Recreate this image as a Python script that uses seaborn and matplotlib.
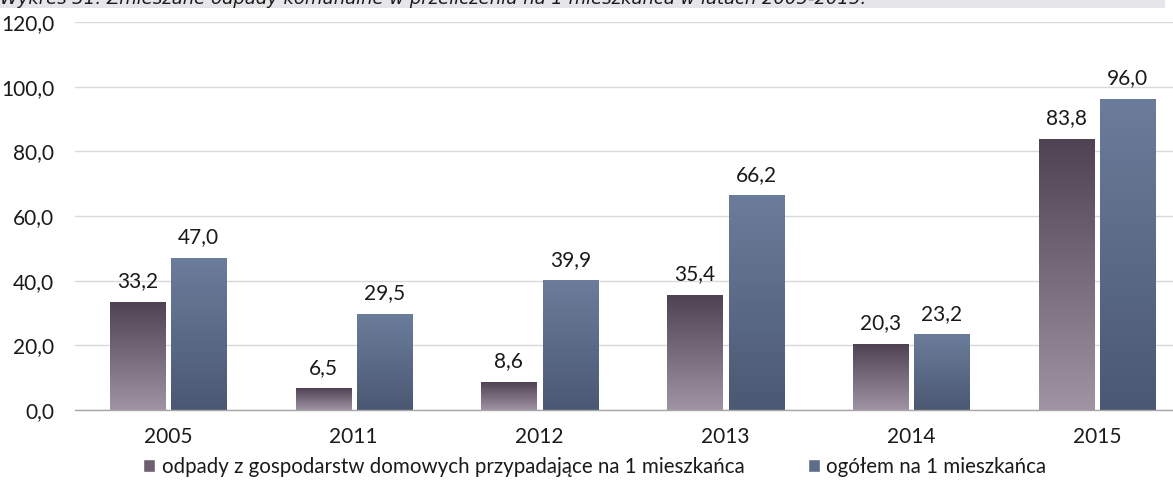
import numpy as np
import pandas as pd
import matplotlib
matplotlib.use("Agg")
import matplotlib.pyplot as plt
import seaborn as sns
from matplotlib.patches import Rectangle
from matplotlib.colors import LinearSegmentedColormap

years = ["2005", "2011", "2012", "2013", "2014", "2015"]
households = [33.2, 6.5, 8.6, 35.4, 20.3, 83.8]
total = [47.0, 29.5, 39.9, 66.2, 23.2, 96.0]
series_names = ["odpady z gospodarstw domowych przypadające na 1 mieszkańca",
                "ogółem na 1 mieszkańca"]
yticks = [0, 20, 40, 60, 80, 100, 120]
title = "Wykres 31. Zmieszane odpady komunalne w przeliczeniu na 1 mieszkańca w latach 2005-2015."

df = pd.DataFrame({
    "rok": years * 2,
    "wartosc": households + total,
    "seria": [series_names[0]] * len(years) + [series_names[1]] * len(years),
})

sns.set_theme(style="white")
plt.rcParams["font.family"] = ["Lato", "DejaVu Sans"]

W, H = 1173, 495
fig = plt.figure(figsize=(W / 100, H / 100), dpi=100)
ax = fig.add_axes([75 / W, 1 - 410 / H, 1115 / W, 388 / H])

pal = ["#6e5f70", "#5d6d89"]
sns.barplot(data=df, x="rok", y="wartosc", hue="seria", palette=pal,
            width=0.66, ax=ax, legend=False, saturation=1)

grads = [("#4f4252", "#a093a3"), ("#6b7d9b", "#4b5873")]
n = len(years)
fs = 15
for i, p in enumerate(ax.patches[:2 * n]):
    s = i // n
    x0, w = p.get_x(), p.get_width()
    gap = 0.017
    x0 += gap
    w -= 2 * gap
    h = p.get_height()
    p.set_visible(False)
    cmap = LinearSegmentedColormap.from_list("g", [grads[s][0], grads[s][1]])
    grad = np.linspace(0, 1, 256).reshape(-1, 1)
    ax.imshow(grad, cmap=cmap, aspect="auto", extent=(x0, x0 + w, 0, h),
              origin="upper", zorder=2)
    val = households[i] if s == 0 else total[i - n]
    ax.annotate(f"{val:.1f}".replace(".", ","), (x0 + w / 2, h),
                xytext=(0, 8), textcoords="offset points",
                ha="center", va="bottom", fontsize=fs, color="#1a1a1a")

ax.set_xlim(-0.5, n - 0.5)
ax.set_ylim(0, 120)
ax.set_yticks(yticks)
ax.set_yticklabels([f"{v:.1f}".replace(".", ",") for v in yticks],
                   fontsize=fs, color="#1a1a1a")
ax.set_xticks(range(n))
ax.set_xticklabels(years, fontsize=fs, color="#1a1a1a")
ax.tick_params(axis="x", length=0, pad=12)
ax.tick_params(axis="y", length=0, pad=15)
ax.set_xlabel("")
ax.set_ylabel("")
ax.yaxis.grid(True, color="#d9d9d9", linewidth=1)
ax.set_axisbelow(True)
for sp in ["top", "right", "left"]:
    ax.spines[sp].set_visible(False)
ax.spines["bottom"].set_color("#a6a6a6")
ax.spines["bottom"].set_linewidth(1)
ax.spines["bottom"].set_zorder(3)

# legend: two entries placed like the reference
leg_x = [143 / W, 808 / W]
for name, c, lx in zip(series_names, ["#6e5f70", "#5d6d89"], leg_x):
    fig.legend([Rectangle((0, 0), 1, 1, facecolor=c)], [name], loc="center left",
               bbox_to_anchor=(lx, 1 - 467 / H), frameon=False, fontsize=14.8,
               handlelength=0.6, handleheight=0.6, handletextpad=0.3,
               borderpad=0, borderaxespad=0, labelcolor="#1a1a1a")

# title band (cut off at top)
fig.patches.append(Rectangle((0, 1 - 8 / H), 1165 / W, 8 / H,
                             transform=fig.transFigure, facecolor="#e6e6e9",
                             edgecolor="none", zorder=0))
fig.text(0.0, 1 - 4 / H, title, ha="left", va="baseline", fontsize=13,
         style="italic", color="#1a1a1a", family="DejaVu Sans")

fig.savefig("out.png", dpi=100)
